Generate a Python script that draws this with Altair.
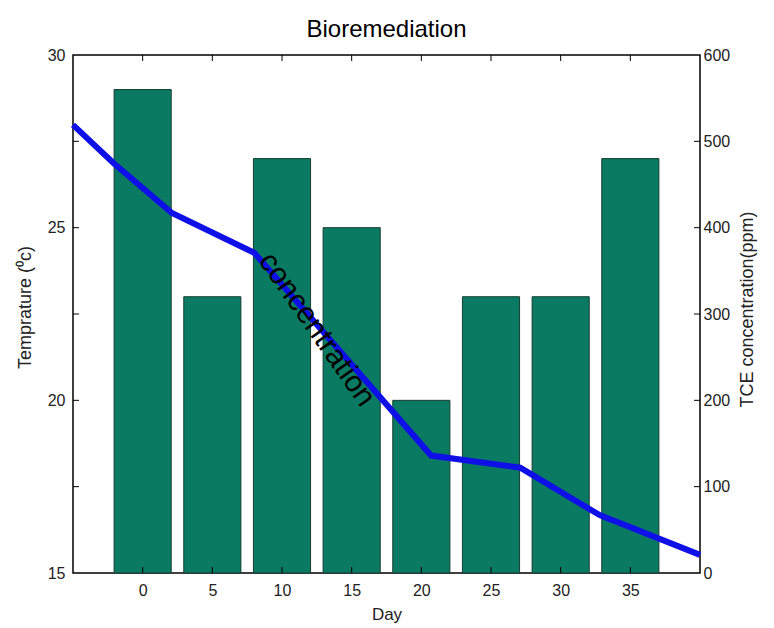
import altair as alt
import pandas as pd

days = [0, 5, 10, 15, 20, 25, 30, 35]
temperature = [29, 23, 27, 25, 20, 23, 23, 27]

conc_day = [-5, -2.1, 2.1, 8.0, 20.7, 27.1, 32.8, 40]
conc_ppm = [519, 475, 417, 371, 136, 122, 67, 21]

left_ticks = [17.5, 20, 22.5, 25, 27.5]
left_labels = [15, 20, 25, 30]
right_ticks = [100, 200, 300, 400, 500]
right_labels = [0, 100, 200, 300, 400, 500, 600]

FONT = "Liberation Sans"
BAR_HALF = 2.05

bars_df = pd.DataFrame({"day": days, "temp": temperature, "base": [15] * len(days)})
line_df = pd.DataFrame({"day": conc_day, "ppm": conc_ppm})
lt_df = pd.DataFrame({"temp": left_ticks})
rt_df = pd.DataFrame({"ppm": right_ticks})
xt_df = pd.DataFrame({"day": days})
txt_df = pd.DataFrame({"day": [12.5], "ppm": [282], "label": ["concentration"]})

xscale = alt.Scale(domain=[-5, 40], nice=False, zero=False)
yL = alt.Scale(domain=[15, 30], nice=False, zero=False)
yR = alt.Scale(domain=[0, 600], nice=False, zero=False)

xaxis = alt.Axis(values=days, title="Day", tickSize=0, labelPadding=9, domain=False,
                 grid=False, labelFontSize=16, titleFontSize=17, labelColor="#222",
                 titleColor="#222", labelFont=FONT, titleFont=FONT,
                 titleFontWeight="normal", titleBaseline="alphabetic", titleY=46)
yLaxis = alt.Axis(values=left_labels, title="Temprature (⁰c)", tickSize=0, labelPadding=8,
                  domain=False, grid=False, labelFontSize=16, titleFontSize=18,
                  labelColor="#222", titleColor="#222", labelFont=FONT, titleFont=FONT,
                  titleFontWeight="normal", titleX=-48, titleY=252, titleAngle=270,
                  titleAlign="center", titleBaseline="middle")
yRaxis = alt.Axis(orient="right", values=right_labels, title="TCE concentration(ppm)",
                  tickSize=0, labelPadding=3, domain=False, grid=False, labelFontSize=16,
                  titleFontSize=18, labelColor="#222", titleColor="#222", labelFont=FONT,
                  titleFont=FONT, titleFontWeight="normal", titleX=47, titleY=254,
                  titleAngle=270, titleAlign="center", titleBaseline="middle")

X = lambda f: alt.X(f, scale=xscale, axis=xaxis, title="Day")
YL = lambda f: alt.Y(f, scale=yL, axis=yLaxis, title="Temprature (⁰c)")
YR = lambda f: alt.Y(f, scale=yR, axis=yRaxis, title="TCE concentration(ppm)")

bars = alt.Chart(bars_df).mark_bar(color="#0a7a62", stroke="#163d33", strokeWidth=1).transform_calculate(
    x1=f"datum.day - {BAR_HALF}", x2=f"datum.day + {BAR_HALF}"
).encode(x=X("x1:Q"), x2="x2:Q", y=YL("temp:Q"), y2="base:Q")

lticks = alt.Chart(lt_df).mark_rule(color="black", strokeWidth=1).encode(
    y=YL("temp:Q"), x=alt.value(0), x2=alt.value(6)
)
bticks = alt.Chart(xt_df).mark_rule(color="black", strokeWidth=1).encode(
    x=X("day:Q"), y=alt.value(518), y2=alt.value(512)
)
tticks = alt.Chart(xt_df).mark_rule(color="black", strokeWidth=1).encode(
    x=X("day:Q"), y=alt.value(0), y2=alt.value(6)
)

line = alt.Chart(line_df).mark_line(color="#0f0fe8", strokeWidth=6).encode(
    x=X("day:Q"), y=YR("ppm:Q")
)
rticks = alt.Chart(rt_df).mark_rule(color="black", strokeWidth=1).encode(
    y=YR("ppm:Q"), x=alt.value(627), x2=alt.value(621)
)
label = alt.Chart(txt_df).mark_text(angle=55, fontSize=30, font=FONT, color="black",
                                    align="center", baseline="middle").encode(
    x=X("day:Q"), y=YR("ppm:Q"), text="label:N"
)

left = alt.layer(bars, lticks, bticks, tticks)
right = alt.layer(line, rticks, label)

chart = alt.layer(left, right).resolve_scale(y="independent").properties(
    width=627, height=518,
    background="white",
    title=alt.TitleParams("Bioremediation", fontSize=24, font=FONT, fontWeight="normal",
                          color="black", anchor="middle", offset=5),
    autosize=alt.AutoSizeParams(type="none"),
    padding={"left": 65, "top": 47, "right": 66, "bottom": 55},
).configure_view(stroke="black", strokeWidth=1.5)

chart.save("out.html", embed_options={"renderer": "svg", "actions": False})
